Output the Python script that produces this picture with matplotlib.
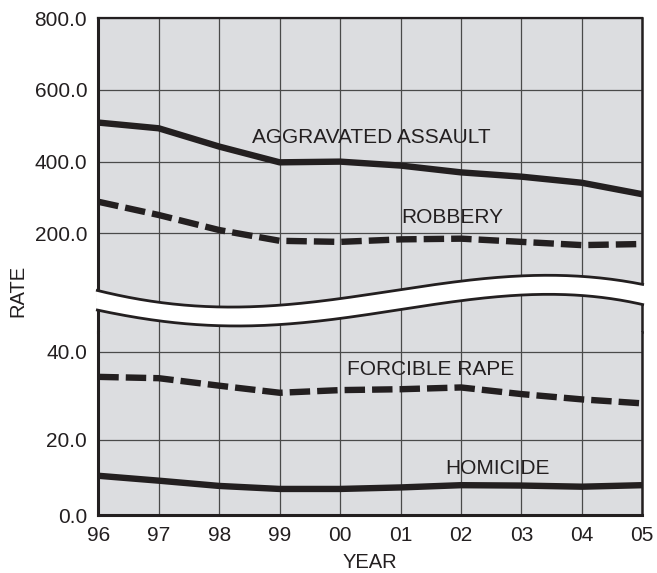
import numpy as np
import matplotlib.pyplot as plt

# chart data (rates per 100,000)
years = [96, 97, 98, 99, 100, 101, 102, 103, 104, 105]
year_labels = ['96', '97', '98', '99', '00', '01', '02', '03', '04', '05']

aggravated_assault = [509, 493, 442, 398, 400, 389, 370, 358, 341, 309]
robbery = [288, 251, 209, 179, 176, 183, 185, 176, 167, 170]
forcible_rape = [34.3, 34.0, 32.3, 30.7, 31.3, 31.5, 31.9, 30.4, 29.2, 28.3]
homicide = [10.5, 9.2, 7.8, 7.0, 7.0, 7.4, 8.0, 7.9, 7.6, 8.0]

top_ticks = [200, 400, 600, 800]
bottom_ticks = [0, 20, 40]

ink = '#231f20'
bg = '#dcdde0'
grid_col = '#4a4a4a'

plt.rcParams['font.family'] = ['Liberation Sans', 'DejaVu Sans']

W, H = 657, 573
fig = plt.figure(figsize=(W / 100, H / 100), dpi=100)


def rect(x0, y0, x1, y1):
    # pixel box (left, top, right, bottom) -> figure fraction
    return [x0 / W, 1 - y1 / H, (x1 - x0) / W, (y1 - y0) / H]


left, right = 98.3, 642.3
top_px, split_px, bottom_px = 18.3, 332, 515.3

ax_top = fig.add_axes(rect(left, top_px, right, split_px))
ax_bot = fig.add_axes(rect(left, split_px, right, bottom_px))

# upper panel: linear, 800 at the top edge
top_scale = 0.3583  # px per unit
ax_top.set_ylim(800 - (split_px - top_px) / top_scale, 800)

# lower panel: the printed chart spaces 0-20 and 20-40 a bit differently
seg_vals = [0, 20, 40, 100]
seg_px = [0, 75.3, 163.6, 163.6 + 60 * 4.415]


def fwd(v):
    return np.interp(v, seg_vals, seg_px)


def inv(p):
    return np.interp(p, seg_px, seg_vals)


ax_bot.set_yscale('function', functions=(fwd, inv))
ax_bot.set_ylim(0, float(inv(bottom_px - split_px)))

for ax in (ax_top, ax_bot):
    ax.set_facecolor(bg)
    ax.set_xlim(96, 105)
    ax.set_xticks(years)
    ax.tick_params(length=0, labelsize=15, colors=ink, pad=8)
    ax.grid(True, color=grid_col, lw=0.9)
    ax.set_axisbelow(True)
    for s in ax.spines.values():
        s.set_color(ink)

ax_top.set_yticks(top_ticks)
ax_top.set_yticklabels([f'{v:.1f}' for v in top_ticks])
ax_top.tick_params(labelbottom=False)
ax_top.spines['bottom'].set_visible(False)
ax_top.spines['left'].set_linewidth(2.2)
ax_top.spines['top'].set_linewidth(1.6)
ax_top.spines['right'].set_linewidth(1.8)

ax_bot.set_yticks(bottom_ticks)
ax_bot.set_yticklabels([f'{v:.1f}' for v in bottom_ticks])
ax_bot.set_xticklabels(year_labels)
ax_bot.spines['top'].set_visible(False)
ax_bot.spines['left'].set_linewidth(2.2)
ax_bot.spines['bottom'].set_linewidth(2.2)
ax_bot.spines['right'].set_linewidth(1.8)

lw = 4.6
dash = (3.2, 1.1)
ax_top.plot(years, aggravated_assault, color=ink, lw=lw, solid_joinstyle='round')
ax_top.plot(years, robbery, color=ink, lw=lw, dashes=dash, dash_capstyle='butt')
ax_bot.plot(years, forcible_rape, color=ink, lw=lw, dashes=dash, dash_capstyle='butt')
ax_bot.plot(years, homicide, color=ink, lw=lw, solid_joinstyle='round')

lab = dict(ha='center', va='center', fontsize=15, color=ink)
ax_top.text(100.51, 466, 'AGGRAVATED ASSAULT', **lab)
ax_top.text(101.86, 243, 'ROBBERY', **lab)
ax_bot.text(101.49, 36.0, 'FORCIBLE RAPE', **lab)
ax_bot.text(102.6, 12.5, 'HOMICIDE', **lab)

# axis break band drawn over the junction, in pixel coordinates
ov = fig.add_axes([0, 0, 1, 1], zorder=5)
ov.set_xlim(0, W)
ov.set_ylim(H, 0)
ov.axis('off')
ov.patch.set_visible(False)

brk_x = [96, 110, 160, 220, 260, 340, 400, 450, 521, 545, 581, 644]
brk_upper = [290.7, 292.5, 303, 306.7, 306.5, 298.3, 290, 282.7, 275.7, 275, 276.7, 284.6]
brk_lower = [309.3, 313.0, 321.7, 325, 325, 319.3, 310, 301.7, 295, 293.3, 296.7, 304.6]
xs = np.linspace(96, 644, 300)
up = np.polyval(np.polyfit(brk_x, brk_upper, 5), xs)
lo = np.polyval(np.polyfit(brk_x, brk_lower, 5), xs)
ov.fill_between(xs, up, lo, color='white', lw=0)
ov.plot(xs, up, color=ink, lw=2.0, solid_capstyle='butt')
ov.plot(xs, lo, color=ink, lw=2.0, solid_capstyle='butt')

fig.text(18 / W, 1 - 291 / H, 'RATE', rotation=90, ha='center', va='center', fontsize=14.5, color=ink)
fig.text(370 / W, 1 - 563 / H, 'YEAR', ha='center', va='center', fontsize=14.5, color=ink)

fig.savefig('out.png', dpi=100)
